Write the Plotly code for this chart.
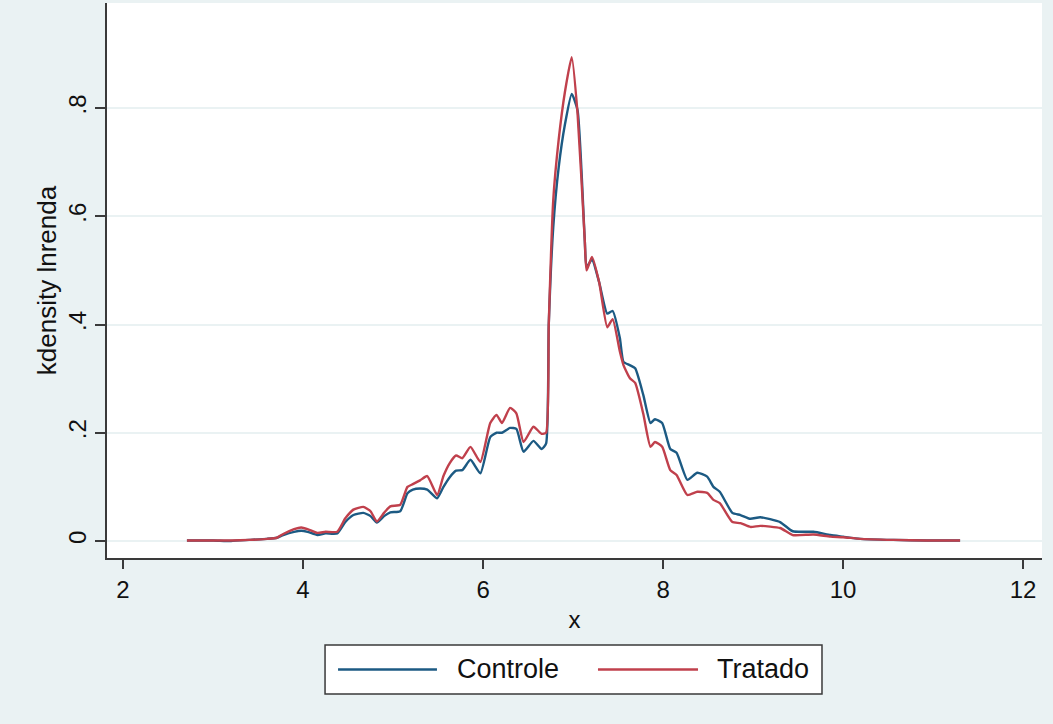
import plotly.graph_objects as go

x_grid = [2.71, 3.0, 3.2, 3.4, 3.6, 3.71, 3.78, 3.9, 3.98, 4.05, 4.16, 4.25, 4.38, 4.47, 4.56,
          4.67, 4.75, 4.82, 4.9, 4.97, 5.08, 5.16, 5.22, 5.30, 5.38, 5.49, 5.56, 5.63, 5.70,
          5.77, 5.86, 5.97, 6.08, 6.15, 6.21, 6.30, 6.37, 6.45, 6.56, 6.65, 6.70, 6.73, 6.78,
          6.84, 6.91, 6.985, 7.05, 7.13, 7.15, 7.21, 7.29, 7.38, 7.44, 7.52, 7.56, 7.63, 7.69,
          7.78, 7.86, 7.91, 7.99, 8.08, 8.15, 8.27, 8.38, 8.49, 8.56, 8.63, 8.77, 8.86, 8.97,
          9.08, 9.30, 9.44, 9.67, 9.86, 10.0, 10.19, 10.56, 10.93, 11.3]

controle = [0.001, 0.001, 0.000, 0.002, 0.004, 0.006, 0.011, 0.017, 0.019, 0.017, 0.011, 0.014,
            0.014, 0.035, 0.048, 0.052, 0.046, 0.034, 0.046, 0.053, 0.055, 0.088, 0.095, 0.097,
            0.095, 0.079, 0.100, 0.118, 0.130, 0.131, 0.150, 0.125, 0.192, 0.200, 0.200, 0.209,
            0.207, 0.165, 0.185, 0.170, 0.180, 0.400, 0.580, 0.690, 0.770, 0.826, 0.796, 0.556,
            0.506, 0.520, 0.478, 0.420, 0.425, 0.375, 0.331, 0.325, 0.319, 0.270, 0.218, 0.225,
            0.218, 0.170, 0.163, 0.113, 0.126, 0.119, 0.100, 0.091, 0.052, 0.048, 0.041, 0.044,
            0.035, 0.018, 0.017, 0.011, 0.008, 0.004, 0.002, 0.001, 0.001]

tratado = [0.001, 0.001, 0.001, 0.002, 0.004, 0.006, 0.013, 0.022, 0.025, 0.022, 0.015, 0.017,
           0.017, 0.042, 0.058, 0.063, 0.055, 0.036, 0.052, 0.064, 0.067, 0.100, 0.105, 0.112,
           0.120, 0.085, 0.120, 0.144, 0.158, 0.153, 0.174, 0.146, 0.218, 0.233, 0.218, 0.246,
           0.236, 0.183, 0.211, 0.198, 0.200, 0.400, 0.630, 0.741, 0.830, 0.894, 0.790, 0.556,
           0.500, 0.525, 0.478, 0.395, 0.410, 0.350, 0.325, 0.301, 0.292, 0.235, 0.174, 0.183,
           0.174, 0.131, 0.122, 0.085, 0.091, 0.089, 0.076, 0.070, 0.035, 0.033, 0.026, 0.028,
           0.024, 0.011, 0.012, 0.008, 0.007, 0.004, 0.002, 0.001, 0.001]

series_names = ["Controle", "Tratado"]
series_colors = ["#1c5a83", "#c0404c"]

x_ticks = [2, 4, 6, 8, 10, 12]
y_ticks = [0, 0.2, 0.4, 0.6, 0.8]
y_ticktext = ["0", ".2", ".4", ".6", ".8"]

BG = "#EAF2F3"
AXIS = "#3a3a3a"
FONT = "Liberation Sans, Arial, sans-serif"

fig = go.Figure()
for name, ys, col in zip(series_names, [controle, tratado], series_colors):
    fig.add_trace(go.Scatter(x=x_grid, y=ys, mode="lines", name=name, showlegend=False,
                             line=dict(color=col, width=2.4, shape="spline", smoothing=0.5)))

# Stata-style legend box below the plot (paper coordinates)
fig.add_shape(type="rect", xref="paper", yref="paper", x0=0.2332, x1=0.7647,
              y0=-0.2450, y1=-0.1568, fillcolor="white", line=dict(color=AXIS, width=1.5))
legend_line_x = [(0.2471, 0.3529), (0.5251, 0.6321)]
legend_text_x = [0.3722, 0.6503]
for name, col, (lx0, lx1), tx in zip(series_names, series_colors, legend_line_x, legend_text_x):
    fig.add_shape(type="line", xref="paper", yref="paper", x0=lx0, x1=lx1,
                  y0=-0.2009, y1=-0.2009, line=dict(color=col, width=2.4))
    fig.add_annotation(xref="paper", yref="paper", x=tx, y=-0.2009, text=name,
                       showarrow=False, xanchor="left", yanchor="middle",
                       font=dict(size=27, color="#111"))

fig.update_layout(
    width=1053, height=724,
    margin=dict(l=107, r=11, t=3, b=166),
    paper_bgcolor=BG, plot_bgcolor="white",
    font=dict(family=FONT, color="#111", size=24),
    showlegend=False,
    xaxis=dict(range=[1.822, 12.21], tickvals=x_ticks, showgrid=False, zeroline=False,
               showline=True, linecolor=AXIS, linewidth=1.5, ticks="outside", ticklen=9,
               tickcolor=AXIS, tickwidth=1.5, tickfont=dict(size=24),
               title=dict(text="x", font=dict(size=24), standoff=10)),
    yaxis=dict(range=[-0.0314, 0.994], tickvals=y_ticks, ticktext=y_ticktext, tickangle=-90,
               showgrid=True, gridcolor=BG, gridwidth=1.5, zeroline=False,
               showline=True, linecolor=AXIS, linewidth=1.5, ticks="outside", ticklen=10,
               tickcolor=AXIS, tickwidth=1.5, tickfont=dict(size=24),
               title=dict(text="kdensity lnrenda", font=dict(size=26), standoff=0)),
)

fig.write_html("out.html")
